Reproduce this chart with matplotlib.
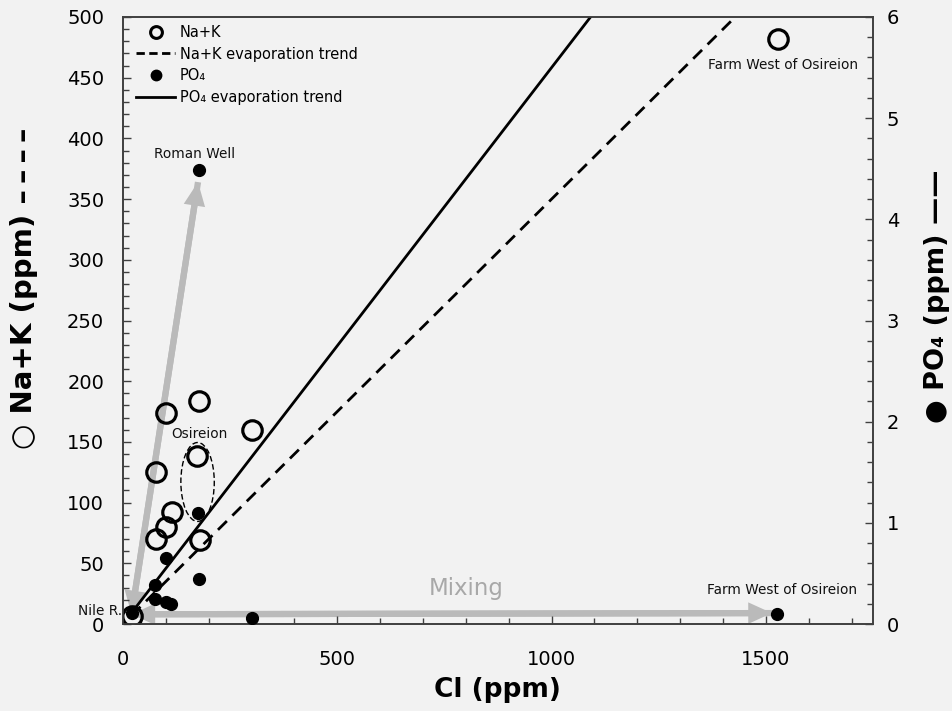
import matplotlib
matplotlib.use("Agg")
import matplotlib.pyplot as plt
from matplotlib.lines import Line2D
from matplotlib.patches import Ellipse, FancyArrowPatch
from matplotlib.ticker import MultipleLocator

# Na+K samples (left axis)
nak_cl = [20, 76, 76, 100, 100, 114, 172, 177, 180, 302, 1529]
nak_ppm = [7, 70, 125, 80, 174, 92, 138, 184, 69, 160, 482]

# PO4 samples (right axis)
po4_cl = [20, 75, 75, 100, 100, 111, 174, 177, 177, 302, 1525]
po4_ppm = [0.11, 0.25, 0.39, 0.65, 0.22, 0.20, 1.10, 4.49, 0.44, 0.06, 0.10]

# Nile end-member and evaporation (concentration) factors for the trends
nile_cl, nile_nak, nile_po4 = 20, 7.0, 0.11
evap_factor = [1, 90]

# Mixing arrows: Nile -> Roman Well and Nile -> Farm (Cl, Na+K scale)
mix_start = (20, 8)
mix_roman = (175, 364)
mix_farm = (1514, 9)

# Osireion group outline (Cl, Na+K centre, width, height)
osireion_ellipse = (174, 117, 78, 65)

BG = "#f2f2f2"
plt.rcParams["font.family"] = ["DejaVu Sans"]

fig = plt.figure(figsize=(9.53, 7.11), dpi=100, facecolor=BG)
W, H = 953, 711
ax = fig.add_axes([123 / W, (H - 624) / H, 750 / W, 607 / H])
ax.set_facecolor(BG)
ax.set_xlim(0, 1750)
ax.set_ylim(0, 500)
ax2 = ax.twinx()
ax2.set_ylim(0, 6)

# gray mixing arrows (double headed)
arrow_col = "#bababa"
astyle = "simple,head_length=1.7,head_width=1.55,tail_width=0.45"
for a, b in [(mix_start, mix_roman), (mix_roman, mix_start),
             (mix_start, mix_farm), (mix_farm, mix_start)]:
    ax.add_patch(FancyArrowPatch(a, b, arrowstyle=astyle, mutation_scale=10,
                                 color=arrow_col, lw=0, shrinkA=0, shrinkB=0,
                                 zorder=1))

# evaporation trends through the Nile composition
tr_cl = [nile_cl * f for f in evap_factor]
tr_nak = [nile_nak * f for f in evap_factor]
tr_po4 = [nile_po4 * f for f in evap_factor]
ax.plot(tr_cl, tr_nak, color="black", lw=2, ls=(0, (4.5, 2.8)), zorder=2)
ax2.plot(tr_cl, tr_po4, color="black", lw=2, zorder=2)

# samples
ax.plot(nak_cl, nak_ppm, ls="none", marker="o", ms=14, mfc="none",
        mec="black", mew=2.3, zorder=3)
ax2.plot(po4_cl, po4_ppm, ls="none", marker="o", ms=8.5, color="black",
         zorder=4)

ex, ey, ew, eh = osireion_ellipse
ax.add_patch(Ellipse((ex, ey), ew, eh, fill=False, ec="black", lw=1,
                     ls=(0, (4, 2)), zorder=2))

# annotations
tkw = dict(fontsize=9.8, va="baseline", color="#111111")
ax.text(168, 384, "Roman Well", ha="center", **tkw)
ax.text(178, 153, "Osireion", ha="center", **tkw)
ax.text(-3, 7.5, "Nile R.", ha="right", clip_on=False, **tkw)
ax.text(1539, 457, "Farm West of Osireion", ha="center", **tkw)
ax.text(1537, 25, "Farm West of Osireion", ha="center", **tkw)
ax.text(800, 24, "Mixing", ha="center", va="baseline", fontsize=16.5,
        color="#a8a8a8")

# ticks and frame
ax.xaxis.set_major_locator(MultipleLocator(500))
ax.xaxis.set_minor_locator(MultipleLocator(100))
ax.yaxis.set_major_locator(MultipleLocator(50))
ax.yaxis.set_minor_locator(MultipleLocator(10))
ax2.yaxis.set_major_locator(MultipleLocator(1))
ax2.yaxis.set_minor_locator(MultipleLocator(0.2))
ax.tick_params(axis="x", which="both", direction="in", pad=19, labelsize=14,
               colors="#404040", labelcolor="black")
ax.tick_params(axis="y", which="both", direction="in", pad=13.5, labelsize=14,
               colors="#404040", labelcolor="black")
ax2.tick_params(axis="y", which="both", direction="in", pad=10, labelsize=14,
                colors="#404040", labelcolor="black")
for a in (ax, ax2):
    a.tick_params(which="major", length=6, width=1)
    a.tick_params(which="minor", length=4, width=1)
    for s in a.spines.values():
        s.set_color("#404040")
        s.set_linewidth(1.2)

# legend
handles = [
    Line2D([], [], ls="none", marker="o", ms=8.5, mfc="none", mec="black",
           mew=2.2),
    Line2D([], [], color="black", lw=2, ls=(0, (3, 1.6))),
    Line2D([], [], ls="none", marker="o", ms=7.5, color="black"),
    Line2D([], [], color="black", lw=2),
]
labels = ["Na+K", "Na+K evaporation trend", "PO\u2084", "PO\u2084 evaporation trend"]
ax.legend(handles, labels, loc="upper left", bbox_to_anchor=(136 / W, 1 - 25 / H),
          bbox_transform=fig.transFigure, frameon=False, fontsize=10.5,
          borderpad=0, borderaxespad=0, handlelength=2.7, handletextpad=0.3,
          labelspacing=0.45)

# axis titles
fig.text(497 / W, 1 - 690 / H, "Cl (ppm)", ha="center", va="center",
         fontsize=19, weight="bold")
fig.text(24 / W, 1 - 288 / H,
         "\u25cb Na+K (ppm) \u2013\u2009\u2013\u2009\u2013\u2009\u2013",
         rotation=90, ha="center", va="center", fontsize=21, weight="bold")
fig.text(937 / W, 1 - 296 / H, "\u25cf PO\u2084 (ppm) \u2014\u2014", rotation=90,
         ha="center", va="center", fontsize=19.5, weight="bold")

fig.savefig("out.png", dpi=100, facecolor=BG)
